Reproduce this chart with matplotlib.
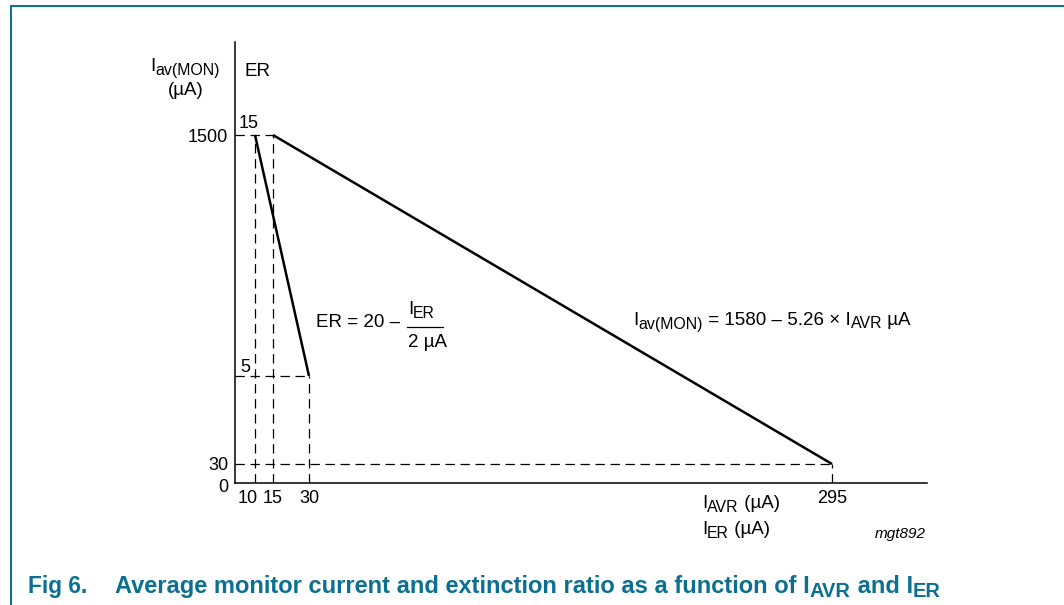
import matplotlib
matplotlib.use("Agg")
import matplotlib.pyplot as plt
import matplotlib.transforms as mtransforms
import numpy as np
from matplotlib.lines import Line2D

plt.rcParams['font.family'] = ['Liberation Sans', 'DejaVu Sans']
plt.rcParams['font.size'] = 13

# data (schematic datasheet figure)
iav_x = [15, 295]          # I_AVR (uA)
iav_y = [1500, 30]         # I_av(MON) (uA)
er_x = [10, 30]            # I_ER (uA)
er_y = [15, 5]             # ER
x_ticks = [10, 15, 30, 295]
y_ticks = [0, 30, 1500]

BLUE = '#0a6f91'
W, H = 1064, 605

# schematic (non proportional) axes: piecewise linear scales
X_DATA = [0, 10, 15, 30, 295, 343]
X_PX = [0, 20, 38, 74, 597, 692]
Y_DATA = [0, 30, 1500, 1915]
Y_PX = [0, 19, 348, 441]


def fx(v):
    return np.interp(v, X_DATA, X_PX)


def fx_inv(v):
    return np.interp(v, X_PX, X_DATA)


def fy(v):
    return np.interp(v, Y_DATA, Y_PX)


def fy_inv(v):
    return np.interp(v, Y_PX, Y_DATA)


fig = plt.figure(figsize=(W / 100, H / 100), dpi=100)
ax = fig.add_axes([235 / W, 122 / H, 692 / W, 441 / H])
ax.set_xscale('function', functions=(fx, fx_inv))
ax.set_yscale('function', functions=(fy, fy_inv))
ax.set_xlim(0, 343)
ax.set_ylim(0, 1915)


def rich(x, y, parts, size=13.5, sub_scale=0.85, drop=3.5, **kw):
    """text pieces with subscripts; x, y = left / baseline in image pixels"""
    yb = H - y
    prev = None
    for s, sub in parts:
        fs = size * sub_scale if sub else size
        yy = yb - drop if sub else yb
        if prev is None:
            prev = ax.annotate(s, xy=(x, yy), xycoords='figure pixels', fontsize=fs,
                               va='baseline', ha='left', annotation_clip=False, **kw)
        else:
            prev = ax.annotate(s, xy=(1, yy), xycoords=(prev, 'figure pixels'), fontsize=fs,
                               va='baseline', ha='left', annotation_clip=False, **kw)
    return prev


# ER axis: 5 at 107 px, 15 at 348 px above the x axis
er_slope = (348 - 107) / 10.0
er_lim = (5 - 107 / er_slope, 15 + (441 - 348) / er_slope)
ax2 = ax.twinx()
ax2.axis('off')

for s in ['top', 'right']:
    ax.spines[s].set_visible(False)
for s in ['left', 'bottom']:
    ax.spines[s].set_linewidth(1.1)

ax.set_xticks(x_ticks)
ax.set_xticklabels([str(v) for v in x_ticks])
ax.set_yticks(y_ticks)
ax.set_yticklabels([str(v) for v in y_ticks])
ax.tick_params(length=0, pad=5, labelsize=13)
ax.xaxis.set_minor_locator(matplotlib.ticker.NullLocator())
ax.yaxis.set_minor_locator(matplotlib.ticker.NullLocator())
# "10" sits just left of its guide so it does not run into "15"
lab10 = ax.get_xticklabels()[0]
lab10.set_transform(lab10.get_transform()
                    + mtransforms.ScaledTranslation(-5 / 72, 0, fig.dpi_scale_trans))
lab0 = ax.get_yticklabels()[0]
lab0.set_transform(lab0.get_transform()
                   + mtransforms.ScaledTranslation(0, -2 / 72, fig.dpi_scale_trans))

dash = dict(color='black', lw=0.9, dashes=(7.5, 4.5))
# guides for the I_av(MON) line
ax.plot([0, iav_x[0]], [iav_y[0], iav_y[0]], **dash)
ax.plot([iav_x[0], iav_x[0]], [0, iav_y[0]], **dash)
ax.plot([0, iav_x[1]], [iav_y[1], iav_y[1]], **dash)
ax.plot([iav_x[1], iav_x[1]], [0, iav_y[1]], **dash)
# guides for the ER line
ax.plot([er_x[0], er_x[0]], [0, iav_y[0]], **dash)
ax2.plot([0, er_x[1]], [er_y[1], er_y[1]], **dash)
ax2.plot([er_x[1], er_x[1]], [er_lim[0], er_y[1]], **dash)

ax.plot(iav_x, iav_y, color='black', lw=1.8, solid_capstyle='butt')
ax2.plot(er_x, er_y, color='black', lw=1.8, solid_capstyle='butt')
ax2.set_ylim(*er_lim)

# ER axis labels
ax2.annotate('15', (0, er_y[0]), xytext=(2.5, 2.5), textcoords='offset points',
             ha='left', va='bottom', fontsize=13)
ax2.annotate('5', (0, er_y[1]), xytext=(3.5, 0), textcoords='offset points',
             ha='left', va='bottom', fontsize=13)

# axis titles
rich(150, 71, [('I', False), ('av(MON)', True)])
fig.text(186 / W, 1 - 95 / H, '(µA)', ha='center', va='baseline', fontsize=13.5)
rich(245, 76, [('ER', False)])
rich(702, 508, [('I', False), ('AVR', True), (' (µA)', False)])
rich(702, 534, [('I', False), ('ER', True), (' (µA)', False)])
fig.text(926 / W, 1 - 538 / H, 'mgt892', ha='right', va='baseline', style='italic',
         fontsize=11)

# equations
rich(316, 327, [('ER = 20 –', False)])
rich(408, 314, [('I', False), ('ER', True)])
rich(408, 347, [('2 µA', False)])
fig.add_artist(Line2D([407 / W, 443 / W], [1 - 327 / H, 1 - 327 / H], color='black',
                      lw=0.9, transform=fig.transFigure))
rich(633, 325, [('I', False), ('av(MON)', True), (' = 1580 – 5.26 × I', False),
                ('AVR', True), (' µA', False)])

# caption
cap = dict(color=BLUE, fontweight='bold')
rich(28, 593, [('Fig 6.', False)], size=16.3, **cap)
rich(115, 593, [('Average monitor current and extinction ratio as a function of I', False),
                ('AVR', True), (' and I', False), ('ER', True)],
     size=17, drop=4, **cap)

# page frame
fig.add_artist(Line2D([11 / W, 1], [1 - 6 / H, 1 - 6 / H], color=BLUE, lw=1.4,
                      transform=fig.transFigure))
fig.add_artist(Line2D([11 / W, 11 / W], [0, 1 - 6 / H], color=BLUE, lw=1.4,
                      transform=fig.transFigure))

fig.savefig('out.png', dpi=100)
